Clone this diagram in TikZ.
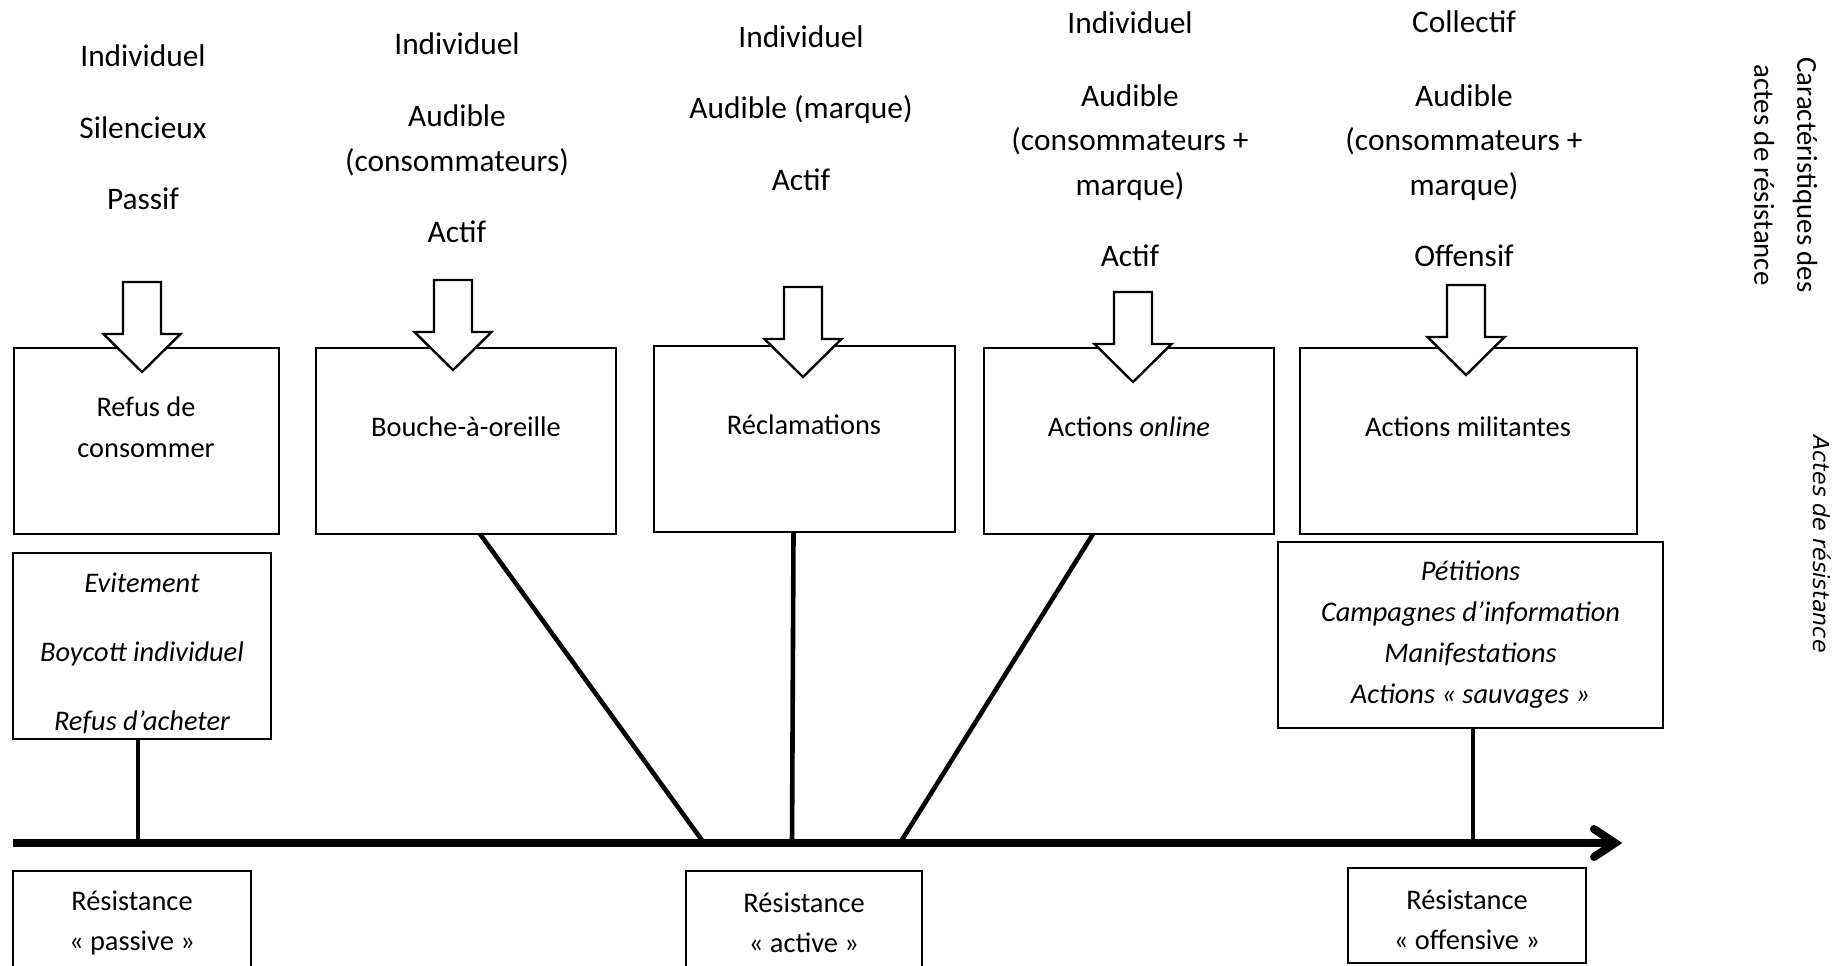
\documentclass[tikz,border=0pt]{standalone}
\usepackage{fontspec}
\setmainfont{Carlito}
\newfontfamily\axisfont{DejaVu Sans}
\usetikzlibrary{calc}

\begin{document}
\begin{tikzpicture}[x=0.5pt, y=-0.5pt,
  every node/.style={inner sep=0pt, outer sep=0pt},
  trait/.style={font=\fontsize{15.7}{22.5}\selectfont, anchor=mid},
  frame/.style={draw, line width=1.2pt, fill=white},
  acte/.style={font=\fontsize{14.2}{20.5}\selectfont, align=center},
  liste/.style={align=center, font=\fontsize{14.2}{#1}\itshape\selectfont},
  niveau/.style={align=center, font=\fontsize{14.2}{20}\selectfont},
  link/.style={line width=2.3pt},
  blockarrow/.pic={
    \draw[line width=1.2pt, fill=white, line join=miter]
      (-19,-90) -- (-19,-38) -- (-38.5,-38) -- (0,0) -- (38.5,-38)
      -- (19,-38) -- (19,-90) -- cycle;
  }
]
\useasboundingbox (0,0) rectangle (1839,965);

% characteristics of each act
\node[trait] (c1a) at (143,62)  {Individuel};
\node[trait] (c1b) at (143,134) {Silencieux};
\node[trait] (c1c) at (143,205) {Passif};

\node[trait] (c2a) at (457,50)  {Individuel};
\node[trait] (c2b) at (457,122) {Audible};
\node[trait] (c2c) at (457,167) {(consommateurs)};
\node[trait] (c2d) at (457,238) {Actif};

\node[trait] (c3a) at (801,43)  {Individuel};
\node[trait] (c3b) at (801,114) {Audible (marque)};
\node[trait] (c3c) at (801,186) {Actif};

\node[trait] (c4a) at (1130,29)  {Individuel};
\node[trait] (c4b) at (1130,102) {Audible};
\node[trait] (c4c) at (1130,146) {(consommateurs +};
\node[trait] (c4d) at (1130,191) {marque)};
\node[trait] (c4e) at (1130,262) {Actif};

\node[trait] (c5a) at (1464,28)  {Collectif};
\node[trait] (c5b) at (1464,102) {Audible};
\node[trait] (c5c) at (1464,146) {(consommateurs +};
\node[trait] (c5d) at (1464,191) {marque)};
\node[trait] (c5e) at (1464,262) {Offensif};

% acts of resistance
\node[frame, minimum width=132.5pt, minimum height=93pt] (b1) at (146.3,441) {};
\node[frame, minimum width=150pt,   minimum height=93pt] (b2) at (466,441) {};
\node[frame, minimum width=150.5pt, minimum height=93pt] (b3) at (804.5,439) {};
\node[frame, minimum width=145pt,   minimum height=93pt] (b4) at (1129,441) {};
\node[frame, minimum width=168.5pt, minimum height=93pt] (b5) at (1468.5,441) {};

\node[acte] (b1t) at (146,427)  {Refus de\\consommer};
\node[acte] (b2t) at (466,427)  {Bouche-à-oreille};
\node[acte] (b3t) at (804,425)  {Réclamations};
\node[acte] (b4t) at (1129,427) {Actions \textit{online}};
\node[acte] (b5t) at (1468,427) {Actions militantes};

% hollow arrows from the characteristics to the acts
\pic (a1) at (142,372)  {blockarrow};
\pic (a2) at (453,370)  {blockarrow};
\pic (a3) at (803,377)  {blockarrow};
\pic (a4) at (1133,382) {blockarrow};
\pic (a5) at (1466,375) {blockarrow};

% examples
\node[frame, minimum width=129pt, minimum height=93pt] (L1) at (142,646) {};
\node[liste=34.5pt] (L1t) at (142,653)
  {Evitement\\Boycott individuel\\Refus d’acheter};
\node[frame, minimum width=192.5pt, minimum height=93pt] (L5) at (1470.5,635) {};
\node[liste=20.5pt] (L5t) at (1470.5,635)
  {Pétitions\\Campagnes d’information\\Manifestations\\Actions « sauvages »};

% resistance axis
\coordinate (ax0) at (13,843);
\coordinate (axtip) at (1615,843);
\coordinate (p1) at (138,843);
\coordinate (p2) at (704,843);
\coordinate (p3) at (792,843);
\coordinate (p4) at (900,843);
\coordinate (p5) at (1473,843);

\draw[link] (L1.south -| p1) -- (p1);
\draw[link] ($(b2.south)+(14,0)$) -- (p2);
\draw[link] ($(b3.south)+(-11,0)$) -- (p3);
\draw[link] ($(b4.south)+(-36,0)$) -- (p4);
\draw[link] (L5.south -| p5) -- (p5);

\draw[line width=3.65pt] (ax0) -- ($(axtip)+(-4,0)$);
\draw[line width=4pt, line cap=round, line join=miter]
  ($(axtip)+(-21,-14)$) -- (axtip) -- ($(axtip)+(-21,14)$);

% levels of resistance
\node[frame, minimum width=119pt, minimum height=52pt] (r1) at (132,923) {};
\node[niveau] (r1t) at (132,923) {Résistance\\« passive »};
\node[frame, minimum width=118pt, minimum height=52pt] (r2) at (804,923) {};
\node[niveau] (r2t) at (804,923) {Résistance\\« active »};
\node[frame, minimum width=119pt, minimum height=47.5pt] (r3) at (1467,915.5) {};
\node[niveau] (r3t) at (1467,920) {Résistance\\« offensive »};

% side titles
\node[font=\fontsize{14.4}{21}\selectfont, rotate=-90, anchor=mid] (s1) at (1802,175)
  {Caractéristiques des};
\node[font=\fontsize{14.4}{21}\selectfont, rotate=-90, anchor=mid] (s2) at (1759,175)
  {actes de résistance};
\node[font=\axisfont\itshape\fontsize{11.1}{13}\selectfont, rotate=-90, anchor=mid] (s3) at (1818,544)
  {Actes de résistance};
\end{tikzpicture}
\end{document}
